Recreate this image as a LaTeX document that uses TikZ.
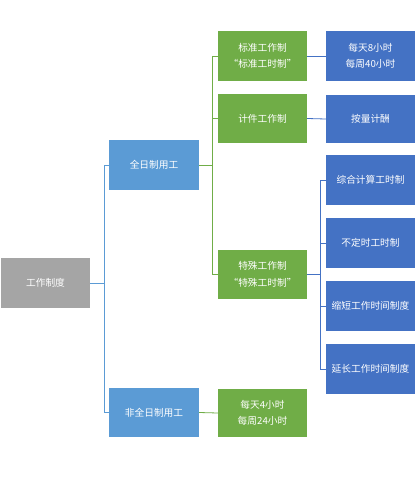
\documentclass[tikz,border=0pt]{standalone}
\usepackage{fontspec}
\setmainfont{Noto Sans CJK SC}
\definecolor{cgray}{HTML}{A5A5A5}
\definecolor{clblue}{HTML}{5B9BD5}
\definecolor{cgreen}{HTML}{70AD47}
\definecolor{cdblue}{HTML}{4472C4}
\begin{document}
\begin{tikzpicture}[x=1pt,y=-1pt,
  box/.style={rectangle, draw=none, text=white, minimum width=89pt, minimum height=50pt,
    inner sep=0pt, align=center, font=\fontsize{9.7}{16.6}\selectfont},
  graybox/.style={box, fill=cgray},
  lbox/.style={box, fill=clblue, minimum width=90pt},
  gbox/.style={box, fill=cgreen},
  dbox/.style={box, fill=cdblue},
  conn/.style={line width=0.8pt}
]
\useasboundingbox (0,0) rectangle (416,489);
\node[graybox] (root) at (45.5,283) {工作制度};
\node[lbox] (full) at (154,165) {全日制用工};
\node[lbox, minimum height=49pt] (part) at (154,412.5) {非全日制用工};
\node[gbox] (std) at (262.5,56) {标准工作制\\“标准工时制”};
\node[gbox, minimum height=49pt] (piece) at (262.5,118.5) {计件工作制};
\node[gbox, minimum height=49pt] (spec) at (262.5,274.5) {特殊工作制\\“特殊工时制”};
\node[gbox, minimum height=48pt] (ptime) at (262.5,413) {每天4小时\\每周24小时};
\node[dbox] (h8) at (370.5,56) {每天8小时\\每周40小时};
\node[dbox, minimum height=48pt] (pay) at (370.5,119) {按量计酬};
\node[dbox] (comp) at (370.5,180) {综合计算工时制};
\node[dbox] (irr) at (370.5,243) {不定时工时制};
\node[dbox] (short) at (370.5,306) {缩短工作时间制度};
\node[dbox] (ext) at (370.5,369) {延长工作时间制度};
% connectors
\draw[conn, clblue] (root.east) -- ++(14,0) |- (full.west);
\draw[conn, clblue] (root.east) -- ++(14,0) |- (part.west);
\draw[conn, cgreen] (full.east) -- ++(13,0) |- (std.west);
\draw[conn, cgreen] (full.east) -- ++(13,0) |- (piece.west);
\draw[conn, cgreen] (full.east) -- ++(13,0) |- (spec.west);
\draw[conn, cgreen] (part.east) -- (ptime.west);
\draw[conn, cdblue] (std.east) -- (h8.west);
\draw[conn, cdblue] (piece.east) -- (pay.west);
\draw[conn, cdblue] (spec.east) -- ++(13,0) |- (comp.west);
\draw[conn, cdblue] (spec.east) -- ++(13,0) |- (irr.west);
\draw[conn, cdblue] (spec.east) -- ++(13,0) |- (short.west);
\draw[conn, cdblue] (spec.east) -- ++(13,0) |- (ext.west);
\end{tikzpicture}
\end{document}
